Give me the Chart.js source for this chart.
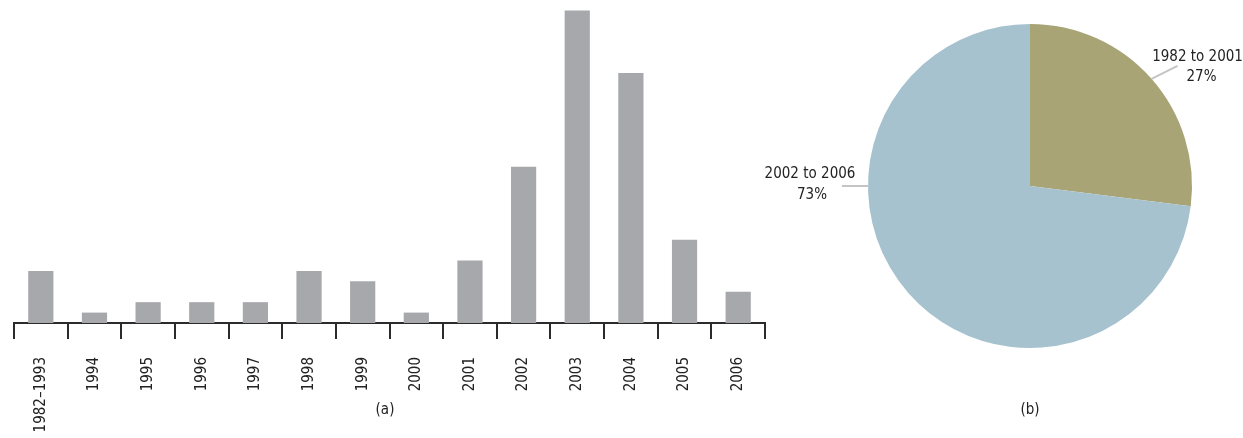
<!DOCTYPE html>
<html>
<head>
<meta charset="utf-8">
<script src="https://cdn.jsdelivr.net/npm/chart.js@4.4.1/dist/chart.umd.min.js"></script>
<style>
    html, body { margin: 0; padding: 0; background: #fff; }
    #wrap { position: relative; width: 1243px; height: 438px; overflow: hidden; }
    #barChart { position: absolute; left: 0; top: 0; }
    #pieChart { position: absolute; left: 740px; top: 0; }
    .cap { position: absolute; top: 400px; font: 15px 'Liberation Sans Narrow', 'DejaVu Sans Condensed', sans-serif; color: #222; transform: translateX(-50%); }
</style>
</head>
<body>
<div id="wrap">
    <canvas id="barChart" width="780" height="438"></canvas>
    <canvas id="pieChart" width="503" height="438"></canvas>
    <div class="cap" style="left:385px">(a)</div>
    <div class="cap" style="left:1030px">(b)</div>
</div>
<script>
const years = ['1982\u20131993', '1994', '1995', '1996', '1997', '1998', '1999', '2000', '2001', '2002', '2003', '2004', '2005', '2006'];
const counts = [5, 1, 2, 2, 2, 5, 4, 1, 6, 15, 30, 24, 8, 3];

const periods = ['1982 to 2001', '2002 to 2006'];
const shares = [27, 73];

const labelFont = "'Liberation Sans Narrow', 'DejaVu Sans Condensed', sans-serif";
const inkColor = '#222';
const axisColor = '#2b2b2b';

new Chart(document.getElementById('barChart').getContext('2d'), {
    type: 'bar',
    data: {
        labels: years,
        datasets: [{
            data: counts,
            backgroundColor: '#a7a8ac',
            borderWidth: 0,
            barPercentage: 0.47,
            categoryPercentage: 1
        }]
    },
    options: {
        responsive: false,
        animation: false,
        layout: { padding: { left: 14, right: 15, top: 0, bottom: 0 } },
        scales: {
            y: { display: false, min: 0, max: 31 },
            x: {
                afterFit: (scale) => { scale.height = 115; },
                border: { display: true, color: axisColor, width: 2 },
                grid: {
                    offset: true,
                    drawOnChartArea: false,
                    drawTicks: true,
                    tickLength: 16,
                    color: axisColor,
                    lineWidth: 2
                },
                ticks: {
                    minRotation: 90,
                    maxRotation: 90,
                    padding: 18,
                    color: inkColor,
                    font: { family: labelFont, size: 15 }
                }
            }
        },
        plugins: {
            legend: { display: false },
            tooltip: { enabled: false }
        }
    }
});

// leader lines + two-line labels for the pie
const pieLabels = {
    id: 'pieLabels',
    afterDraw(chart) {
        const ctx = chart.ctx;
        const arcs = chart.getDatasetMeta(0).data;
        const total = shares.reduce((a, b) => a + b, 0);
        ctx.save();
        ctx.font = '15px ' + labelFont;
        ctx.fillStyle = inkColor;
        ctx.textAlign = 'center';
        ctx.textBaseline = 'middle';
        arcs.forEach((arc, i) => {
            const r = arc.outerRadius;
            // first slice label sits at its middle angle, second at the left side
            const ang = i === 0 ? (arc.startAngle + arc.endAngle) / 2 : Math.PI;
            const px = arc.x + Math.cos(ang) * r;
            const py = arc.y + Math.sin(ang) * r;
            const dir = Math.cos(ang) >= 0 ? 1 : -1;
            const ex = px + dir * 26;
            const ey = py + (i === 0 ? -13 : 0);
            ctx.strokeStyle = '#c4c4c4';
            ctx.lineWidth = 2;
            ctx.beginPath();
            ctx.moveTo(px, py);
            ctx.lineTo(ex, ey);
            ctx.stroke();
            const tx = i === 0 ? ex + 20 : ex - 32;
            const pct = Math.round(shares[i] / total * 100) + '%';
            if (i === 0) {
                ctx.fillText(periods[i], tx, ey - 9);
                ctx.fillText(pct, tx + 4, ey + 11);
            } else {
                ctx.fillText(periods[i], tx, ey - 12);
                ctx.fillText(pct, tx + 2, ey + 9);
            }
        });
        ctx.restore();
    }
};

new Chart(document.getElementById('pieChart').getContext('2d'), {
    type: 'pie',
    data: {
        labels: periods,
        datasets: [{
            data: shares,
            backgroundColor: ['#a8a475', '#a7c2cf'],
            borderWidth: 0
        }]
    },
    options: {
        responsive: false,
        animation: false,
        layout: { padding: { left: 128, right: 51, top: 24, bottom: 90 } },
        plugins: {
            legend: { display: false },
            tooltip: { enabled: false }
        }
    },
    plugins: [pieLabels]
});
</script>
</body>
</html>
